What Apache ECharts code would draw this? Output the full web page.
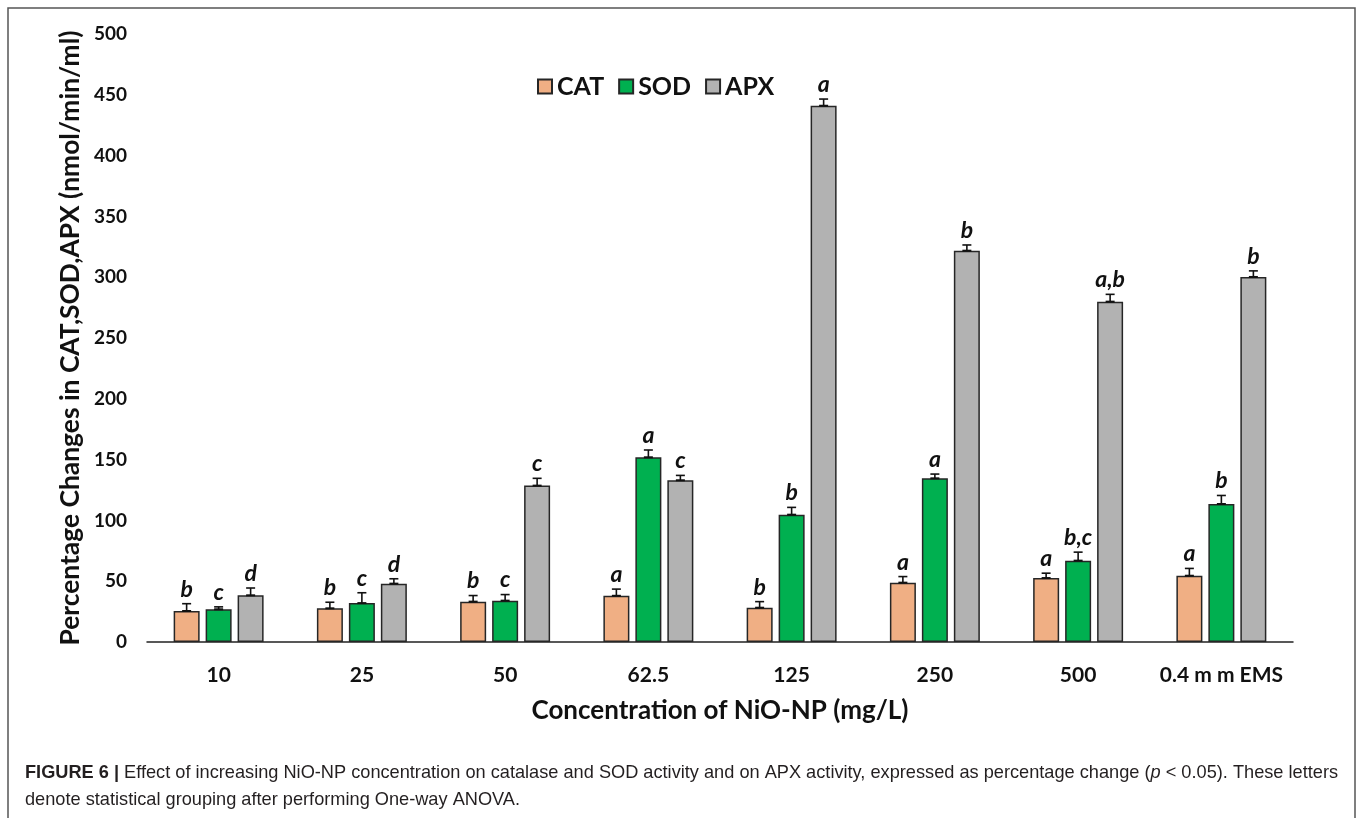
<!DOCTYPE html>
<html>
<head>
<meta charset="utf-8">
<script src="https://cdn.jsdelivr.net/npm/echarts@6/dist/echarts.min.js"></script>
<style>
html,body{margin:0;padding:0;background:#fff;}
#chart{width:1357px;height:818px;}
</style>
</head>
<body>
<div id="chart"></div>
<script>
// ---- data ----
const categories = ['10', '25', '50', '62.5', '125', '250', '500', '0.4 m m EMS'];
const seriesNames = ['CAT', 'SOD', 'APX'];
const catValues = [25.5, 27.7, 33.2, 38.0, 28.2, 48.8, 52.6, 54.5];
const catErrors = [6, 5, 5, 5.5, 5, 5, 4, 6];
const catLetters = ['b', 'b', 'b', 'a', 'b', 'a', 'a', 'a'];
const sodValues = [26.9, 32.0, 34.0, 151.9, 104.7, 134.6, 66.9, 113.5];
const sodErrors = [2, 8.5, 5, 6, 6, 3.5, 7, 7];
const sodLetters = ['c', 'c', 'c', 'a', 'b', 'a', 'b,c', 'b'];
const apxValues = [38.4, 48.0, 128.6, 133.0, 441.0, 321.8, 279.9, 300.2];
const apxErrors = [6, 4, 6, 4, 5.5, 4.7, 6, 5];
const apxLetters = ['d', 'd', 'c', 'c', 'a', 'b', 'a,b', 'b'];
const yTicks = [0, 50, 100, 150, 200, 250, 300, 350, 400, 450, 500];

const colors = ['#F0AF84', '#00B050', '#B2B2B2'];
const offsets = [-32, 0, 32];
const FONT = 'Lato';

const chart = echarts.init(document.getElementById('chart'));

function errSeries(idx, values, errors, letters) {
  return {
    type: 'custom',
    name: seriesNames[idx] + ' err',
    z: 5,
    silent: true,
    renderItem: function (params, api) {
      const i = api.value(0);
      const v = api.value(1);
      const e = api.value(2);
      const base = api.coord([i, v]);
      const top = api.coord([i, v + e]);
      const x = base[0] + offsets[idx];
      const cap = 4.5;
      return {
        type: 'group',
        children: [
          { type: 'line', shape: { x1: x, y1: base[1], x2: x, y2: top[1] }, style: { stroke: '#111', lineWidth: 1.6 } },
          { type: 'line', shape: { x1: x - cap, y1: top[1], x2: x + cap, y2: top[1] }, style: { stroke: '#111', lineWidth: 1.6 } },
          { type: 'line', shape: { x1: x - cap, y1: base[1], x2: x + cap, y2: base[1] }, style: { stroke: '#111', lineWidth: 2 } },
          { type: 'text', x: x, y: top[1] - 3, style: { text: letters[i], fill: '#111', font: 'italic bold 23px ' + FONT, align: 'center', verticalAlign: 'bottom' } }
        ]
      };
    },
    data: values.map((v, i) => [i, v, errors[i]])
  };
}

function barSeries(idx, values) {
  return {
    type: 'bar',
    name: seriesNames[idx],
    data: values,
    barWidth: 26,
    barGap: '23%',
    itemStyle: { color: colors[idx], borderColor: '#262626', borderWidth: 1.5 },
    emphasis: { disabled: true }
  };
}

const option = {
  animation: false,
  backgroundColor: '#fff',
  grid: { left: 147, right: 64, top: 34, bottom: 176, containLabel: false },
  legend: {
    data: seriesNames,
    left: 532,
    top: 69,
    itemWidth: 14,
    itemHeight: 14,
    itemGap: 14,
    icon: 'rect',
    textStyle: { fontFamily: FONT, fontWeight: 'bold', fontSize: 25, color: '#111' }
  },
  xAxis: {
    type: 'category',
    data: categories,
    axisLine: { lineStyle: { color: '#222', width: 1.5 } },
    axisTick: { show: false },
    axisLabel: { interval: 0, fontFamily: FONT, fontWeight: 'bold', fontSize: 21, color: '#111', margin: 23 },
    name: 'Concentration of NiO-NP (mg/L)',
    nameLocation: 'middle',
    nameGap: 56,
    nameTextStyle: { fontFamily: FONT, fontWeight: 'bold', fontSize: 26, color: '#111' }
  },
  yAxis: {
    type: 'value',
    min: 0,
    max: 500,
    interval: 50,
    axisLine: { show: false },
    axisTick: { show: false },
    splitLine: { show: false },
    axisLabel: {
      fontFamily: FONT, fontWeight: 'bold', fontSize: 19, color: '#111', margin: 20,
      formatter: function (v) { return yTicks.indexOf(v) >= 0 ? String(v) : ''; }
    },
    name: 'Percentage Changes in CAT,SOD,APX (nmol/min/ml)',
    nameLocation: 'middle',
    nameGap: 54,
    nameRotate: 90,
    nameTextStyle: { fontFamily: FONT, fontWeight: 'bold', fontSize: 26.4, color: '#111' }
  },
  graphic: [
    { type: 'rect', shape: { x: 8, y: 8, width: 1347, height: 830 }, style: { fill: 'none', stroke: '#555', lineWidth: 1.5 }, silent: true },
    {
      type: 'text', left: 25, top: 764, silent: true,
      style: {
        text: '{b|FIGURE 6 |} Effect of increasing NiO-NP concentration on catalase and SOD activity and on APX activity, expressed as percentage change ({i|p} < 0.05). These letters',
        font: '18.2px "Liberation Sans"', fill: '#231F20',
        rich: {
          b: { fontFamily: 'Liberation Sans', fontWeight: 'bold', fontSize: 18.2, fill: '#231F20' },
          i: { fontFamily: 'Liberation Sans', fontStyle: 'italic', fontSize: 18.2, fill: '#231F20' }
        }
      }
    },
    {
      type: 'text', left: 25, top: 791, silent: true,
      style: { text: 'denote statistical grouping after performing One-way ANOVA.', font: '18.2px "Liberation Sans"', fill: '#231F20' }
    }
  ],
  series: [
    barSeries(0, catValues),
    barSeries(1, sodValues),
    barSeries(2, apxValues),
    errSeries(0, catValues, catErrors, catLetters),
    errSeries(1, sodValues, sodErrors, sodLetters),
    errSeries(2, apxValues, apxErrors, apxLetters)
  ]
};
chart.setOption(option);
</script>
</body>
</html>
